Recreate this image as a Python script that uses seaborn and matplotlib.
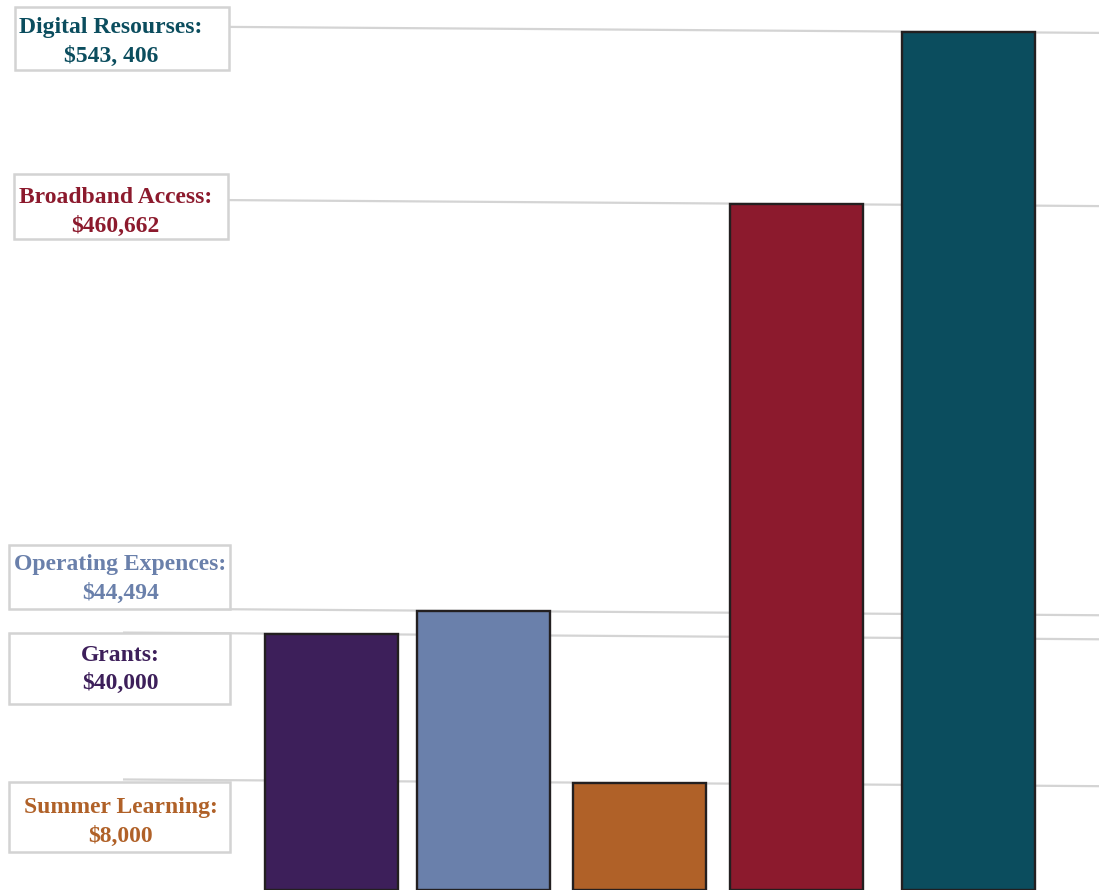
import matplotlib
matplotlib.use("Agg")
import matplotlib.pyplot as plt
from matplotlib.patches import Rectangle
import seaborn as sns

# ---- data ----
categories = ["Grants", "Operating Expences", "Summer Learning",
              "Broadband Access", "Digital Resourses"]
amount_labels = ["$40,000", "$44,494", "$8,000", "$460,662", "$543, 406"]
# bar heights as drawn in the picture (display units, not proportional to amounts)
bar_heights = [256, 279, 107, 686, 858]
colors = ["#3d1f5a", "#6a80ab", "#b06128", "#8c1a2d", "#0b4d5e"]

# ---- layout (figure pixels) ----
W, H = 1099, 890
bar_centers = [331.8, 483.5, 639.0, 796.5, 968.5]   # horizontal layout of bars
bar_width_px = 133.0
boxes = {  # x0, x1, y0, y1 (top-down pixels)
    "Digital Resourses": (15, 229, 6.5, 70),
    "Broadband Access": (13.5, 228, 174, 238.5),
    "Operating Expences": (9, 230, 544.5, 608.5),
    "Summer Learning": (9, 229.5, 782, 852),
    "Grants": (9, 229.5, 633, 703.5),
}
text_pos = {  # center x, baseline1, baseline2
    "Digital Resourses": (110.7, 33, 62),
    "Broadband Access": (115.7, 203, 232),
    "Operating Expences": (120.5, 570, 598.5),
    "Grants": (120, 661, 689),
    "Summer Learning": (120.7, 813.5, 841.5),
}

sns.set_theme(style="white")
plt.rcParams["font.family"] = ["Liberation Serif", "DejaVu Serif"]

fig = plt.figure(figsize=(W / 100, H / 100), dpi=100)
ax = fig.add_axes([0, 0, 1, 1])

min_gap = min(b - a for a, b in zip(bar_centers[:-1], bar_centers[1:]))
sns.barplot(x=bar_centers, y=bar_heights, hue=categories, palette=colors,
            hue_order=categories, legend=False, native_scale=True, dodge=False,
            width=bar_width_px / min_gap, edgecolor="#231f20", linewidth=1.7,
            saturation=1, ax=ax, zorder=2)

ax.set_xlim(0, W)
ax.set_ylim(0, 890)
ax.axis("off")

# slightly tilted guide lines at each bar top
slope = 6.0 / 870.0
xl = 123
for c, h in zip(bar_centers, bar_heights):
    ax.plot([xl, W], [h + (c - xl) * slope, h - (W - c) * slope],
            color="#d4d4d4", lw=1.6, zorder=0.5, solid_capstyle="butt",
            clip_on=False)

# label boxes
for name, (bx0, bx1, by0, by1) in boxes.items():
    r = Rectangle((bx0 / W, 1 - by1 / H), (bx1 - bx0) / W, (by1 - by0) / H,
                  transform=fig.transFigure, facecolor="white",
                  edgecolor="#d3d3d3", lw=1.8, zorder=5)
    fig.add_artist(r)

for i, name in enumerate(categories):
    cx, b1, b2 = text_pos[name]
    for txt, b in ((name + ":", b1), (amount_labels[i], b2)):
        fig.text(cx / W, 1 - b / H, txt, ha="center", va="baseline",
                 fontsize=17, fontweight="bold", color=colors[i], zorder=6)

fig.savefig("out.png", dpi=100)
